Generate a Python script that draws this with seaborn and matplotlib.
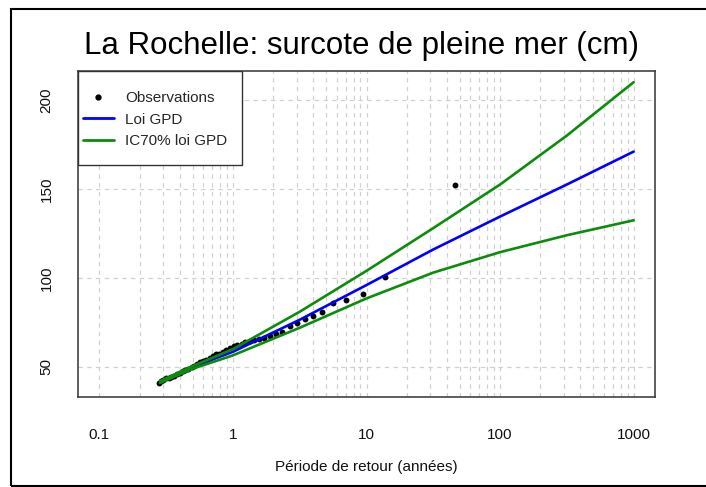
import matplotlib
matplotlib.use("Agg")
import matplotlib.pyplot as plt
import matplotlib.patches as mpatches
from matplotlib.lines import Line2D
import matplotlib.ticker as mticker
import numpy as np
import pandas as pd
import seaborn as sns

# ---------------- data ----------------
obs_T = [46, 13.7, 9.4, 7.0, 5.6, 4.63, 3.99, 3.45, 3.03, 2.67, 2.35,
         2.1, 1.9, 1.72, 1.57, 1.45, 1.34, 1.24, 1.16, 1.08, 1.01, 0.95,
         0.89, 0.84, 0.79, 0.75, 0.71, 0.67, 0.63, 0.60, 0.57, 0.54, 0.51,
         0.49, 0.46, 0.44, 0.42, 0.40, 0.38, 0.36, 0.345, 0.33, 0.315,
         0.30, 0.29, 0.28]
obs_v = [152, 100.6, 91, 87.6, 85.8, 81, 78.6, 77, 74.9, 73, 69.8,
         68.5, 67.5, 66.5, 65.5, 65, 64.5, 64, 63, 62.5, 61.5, 60.5,
         59.5, 58.5, 57.5, 57, 56, 55, 54, 53.5, 52.5, 51.5, 50.5,
         50, 49, 48, 47.5, 46.5, 46, 45, 44.5, 44, 43.5,
         42.5, 42, 41.2]

curve_T = [0.284, 0.5, 1, 3.16, 10, 31.6, 100, 316, 1000]
gpd_v = [41.5, 50, 58.5, 76.5, 96, 116, 134.5, 152.5, 171]
ic_up = [42, 50.5, 60, 81, 104, 128, 152.5, 180, 210]
ic_low = [41, 49, 56.5, 72, 88.5, 103, 114.5, 124, 132.4]

x_ticks = [0.1, 1, 10, 100, 1000]
x_tick_labels = ["0.1", "1", "10", "100", "1000"]
y_ticks = [50, 100, 150, 200]

title = "La Rochelle: surcote de pleine mer (cm)"
xlabel = "Période de retour (années)"
legend_labels = ["Observations", "Loi GPD", "IC70% loi GPD"]

# ---------------- style ----------------
sns.set_style("white")
plt.rcParams["font.family"] = ["Liberation Sans", "DejaVu Sans"]

W, H = 706, 487
fig = plt.figure(figsize=(W / 100, H / 100), dpi=100)
ax = fig.add_axes([78 / W, 1 - 397 / H, (655 - 78) / W, (397 - 71) / H])

green = "#0B8C0B"
blue = "#0000FF"

obs_df = pd.DataFrame({"T": obs_T, "v": obs_v})
curve_df = pd.DataFrame({"T": curve_T, "gpd": gpd_v, "up": ic_up, "low": ic_low})

# grid
grid_kw = dict(color="#D0D0D0", lw=0.9, ls=(0, (3.5, 3.5)), zorder=0)
for dec in [0.1, 1, 10, 100]:
    for k in range(1, 10):
        ax.axvline(dec * k, **grid_kw)
ax.axvline(1000, **grid_kw)
for yv in y_ticks:
    ax.axhline(yv, **grid_kw)

sns.scatterplot(data=obs_df, x="T", y="v", ax=ax, color="black", s=18,
                edgecolor="black", linewidth=0, zorder=2, legend=False)
sns.lineplot(data=curve_df, x="T", y="gpd", ax=ax, color=blue, lw=1.9,
             zorder=3, legend=False)
sns.lineplot(data=curve_df, x="T", y="up", ax=ax, color=green, lw=1.9,
             zorder=3, legend=False)
sns.lineplot(data=curve_df, x="T", y="low", ax=ax, color=green, lw=1.9,
             zorder=3, legend=False)

ax.set_xscale("log")
ax.set_xlim(10 ** -1.16, 10 ** 3.16)
ax.set_ylim(33.1, 216.3)
ax.set_xticks(x_ticks)
ax.set_xticklabels(x_tick_labels)
ax.xaxis.set_minor_locator(mticker.NullLocator())
ax.set_yticks(y_ticks)
ax.set_yticklabels([str(v) for v in y_ticks], rotation=90, va="center")
ax.tick_params(axis="both", direction="out", length=8.5, width=1.0,
               color="#333333", labelsize=11, labelcolor="#111111")
ax.tick_params(axis="x", pad=14)
ax.tick_params(axis="y", pad=9)
ax.set_xlabel(xlabel, fontsize=11, labelpad=13, color="#111111")
ax.set_ylabel("")
for sp in ax.spines.values():
    sp.set_visible(True)
    sp.set_color("#333333")
    sp.set_linewidth(1.1)

# legend box
box = mpatches.Rectangle((0, (397 - 165) / 326), (242 - 78) / 577,
                         1 - (397 - 165) / 326, transform=ax.transAxes,
                         facecolor="white", edgecolor="#333333", lw=1.0,
                         zorder=5)
ax.add_patch(box)
handles = [
    Line2D([], [], marker="o", color="black", ls="none", markersize=3.5),
    Line2D([], [], color=blue, lw=2),
    Line2D([], [], color=green, lw=2),
]
leg = ax.legend(handles, legend_labels, loc="upper left",
                bbox_to_anchor=((83 - 78) / 577, 1 - (91 - 71) / 326),
                frameon=False, fontsize=11, borderpad=0, borderaxespad=0,
                handlelength=2.0, handletextpad=0.75, labelspacing=0.5)
leg.set_zorder(6)

# title
fig.text(362 / W, 1 - 46 / H, title, ha="center", va="center", fontsize=22.5,
         color="black")

# figure border
fig.patches.append(mpatches.Rectangle((10.5 / W, 1.5 / H), 1.2, (485 - 8.5) / H,
                                      transform=fig.transFigure, fill=False,
                                      edgecolor="black", lw=1.5))

fig.savefig("out.png", dpi=100)
